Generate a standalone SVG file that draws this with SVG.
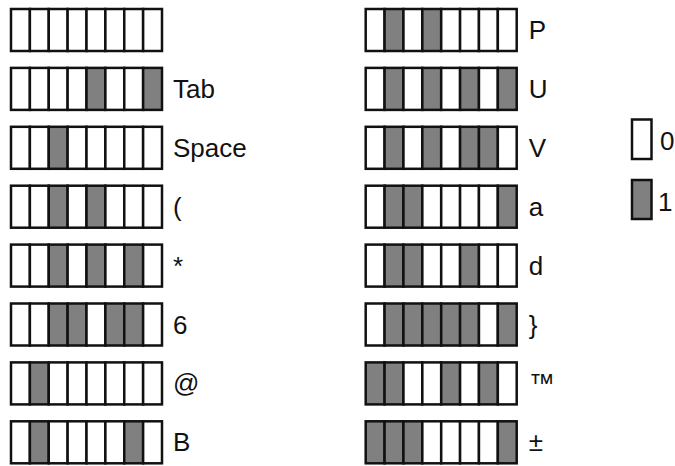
<svg xmlns="http://www.w3.org/2000/svg" width="675" height="466" viewBox="0 0 675 466">
<defs>
<style>
.z,.o{stroke:#111;stroke-width:2.5}
.z{fill:#fff}
.o{fill:#808080}
text{font-family:"Liberation Sans",Arial,sans-serif;font-size:26px;fill:#111}
</style>
<rect id="c0" class="z" width="18.875" height="42"/>
<rect id="c1" class="o" width="18.875" height="42"/>
</defs>
<rect x="0" y="0" width="675" height="466" fill="#fff"/>
<g id="connectors"/>
<g id="L1" transform="translate(11,9)">
<use href="#c0" x="0"/><use href="#c0" x="18.875"/><use href="#c0" x="37.75"/><use href="#c0" x="56.625"/><use href="#c0" x="75.5"/><use href="#c0" x="94.375"/><use href="#c0" x="113.25"/><use href="#c0" x="132.125"/>
</g>
<g id="L2" transform="translate(11,67.9)">
<use href="#c0" x="0"/><use href="#c0" x="18.875"/><use href="#c0" x="37.75"/><use href="#c0" x="56.625"/><use href="#c1" x="75.5"/><use href="#c0" x="94.375"/><use href="#c0" x="113.25"/><use href="#c1" x="132.125"/>
<text x="162" y="30">Tab</text>
</g>
<g id="L3" transform="translate(11,126.8)">
<use href="#c0" x="0"/><use href="#c0" x="18.875"/><use href="#c1" x="37.75"/><use href="#c0" x="56.625"/><use href="#c0" x="75.5"/><use href="#c0" x="94.375"/><use href="#c0" x="113.25"/><use href="#c0" x="132.125"/>
<text x="162" y="30">Space</text>
</g>
<g id="L4" transform="translate(11,185.7)">
<use href="#c0" x="0"/><use href="#c0" x="18.875"/><use href="#c1" x="37.75"/><use href="#c0" x="56.625"/><use href="#c1" x="75.5"/><use href="#c0" x="94.375"/><use href="#c0" x="113.25"/><use href="#c0" x="132.125"/>
<text x="162" y="30">(</text>
</g>
<g id="L5" transform="translate(11,244.6)">
<use href="#c0" x="0"/><use href="#c0" x="18.875"/><use href="#c1" x="37.75"/><use href="#c0" x="56.625"/><use href="#c1" x="75.5"/><use href="#c0" x="94.375"/><use href="#c1" x="113.25"/><use href="#c0" x="132.125"/>
<text x="162" y="30">*</text>
</g>
<g id="L6" transform="translate(11,303.5)">
<use href="#c0" x="0"/><use href="#c0" x="18.875"/><use href="#c1" x="37.75"/><use href="#c1" x="56.625"/><use href="#c0" x="75.5"/><use href="#c1" x="94.375"/><use href="#c1" x="113.25"/><use href="#c0" x="132.125"/>
<text x="162" y="30">6</text>
</g>
<g id="L7" transform="translate(11,362.4)">
<use href="#c0" x="0"/><use href="#c1" x="18.875"/><use href="#c0" x="37.75"/><use href="#c0" x="56.625"/><use href="#c0" x="75.5"/><use href="#c0" x="94.375"/><use href="#c0" x="113.25"/><use href="#c0" x="132.125"/>
<text x="162" y="30">@</text>
</g>
<g id="L8" transform="translate(11,421.3)">
<use href="#c0" x="0"/><use href="#c1" x="18.875"/><use href="#c0" x="37.75"/><use href="#c0" x="56.625"/><use href="#c0" x="75.5"/><use href="#c0" x="94.375"/><use href="#c1" x="113.25"/><use href="#c0" x="132.125"/>
<text x="162" y="30">B</text>
</g>
<g id="R1" transform="translate(365.7,9)">
<use href="#c0" x="0"/><use href="#c1" x="18.875"/><use href="#c0" x="37.75"/><use href="#c1" x="56.625"/><use href="#c0" x="75.5"/><use href="#c0" x="94.375"/><use href="#c0" x="113.25"/><use href="#c0" x="132.125"/>
<text x="163" y="30">P</text>
</g>
<g id="R2" transform="translate(365.7,67.9)">
<use href="#c0" x="0"/><use href="#c1" x="18.875"/><use href="#c0" x="37.75"/><use href="#c1" x="56.625"/><use href="#c0" x="75.5"/><use href="#c1" x="94.375"/><use href="#c0" x="113.25"/><use href="#c1" x="132.125"/>
<text x="163" y="30">U</text>
</g>
<g id="R3" transform="translate(365.7,126.8)">
<use href="#c0" x="0"/><use href="#c1" x="18.875"/><use href="#c0" x="37.75"/><use href="#c1" x="56.625"/><use href="#c0" x="75.5"/><use href="#c1" x="94.375"/><use href="#c1" x="113.25"/><use href="#c0" x="132.125"/>
<text x="163" y="30">V</text>
</g>
<g id="R4" transform="translate(365.7,185.7)">
<use href="#c0" x="0"/><use href="#c1" x="18.875"/><use href="#c1" x="37.75"/><use href="#c0" x="56.625"/><use href="#c0" x="75.5"/><use href="#c0" x="94.375"/><use href="#c0" x="113.25"/><use href="#c1" x="132.125"/>
<text x="163" y="30">a</text>
</g>
<g id="R5" transform="translate(365.7,244.6)">
<use href="#c0" x="0"/><use href="#c1" x="18.875"/><use href="#c1" x="37.75"/><use href="#c0" x="56.625"/><use href="#c0" x="75.5"/><use href="#c1" x="94.375"/><use href="#c0" x="113.25"/><use href="#c0" x="132.125"/>
<text x="163" y="30">d</text>
</g>
<g id="R6" transform="translate(365.7,303.5)">
<use href="#c0" x="0"/><use href="#c1" x="18.875"/><use href="#c1" x="37.75"/><use href="#c1" x="56.625"/><use href="#c1" x="75.5"/><use href="#c1" x="94.375"/><use href="#c0" x="113.25"/><use href="#c1" x="132.125"/>
<text x="163" y="30">}</text>
</g>
<g id="R7" transform="translate(365.7,362.4)">
<use href="#c1" x="0"/><use href="#c1" x="18.875"/><use href="#c0" x="37.75"/><use href="#c0" x="56.625"/><use href="#c1" x="75.5"/><use href="#c0" x="94.375"/><use href="#c1" x="113.25"/><use href="#c0" x="132.125"/>
<text x="163" y="30">™</text>
</g>
<g id="R8" transform="translate(365.7,421.3)">
<use href="#c1" x="0"/><use href="#c1" x="18.875"/><use href="#c1" x="37.75"/><use href="#c0" x="56.625"/><use href="#c0" x="75.5"/><use href="#c0" x="94.375"/><use href="#c0" x="113.25"/><use href="#c1" x="132.125"/>
<text x="163" y="30">±</text>
</g>
<g id="legend0">
<rect class="z" x="632" y="119.5" width="19.5" height="39.5"/>
<text x="660" y="150">0</text>
</g>
<g id="legend1">
<rect class="o" x="632" y="180" width="19.5" height="39"/>
<text x="658" y="211">1</text>
</g>
</svg>
